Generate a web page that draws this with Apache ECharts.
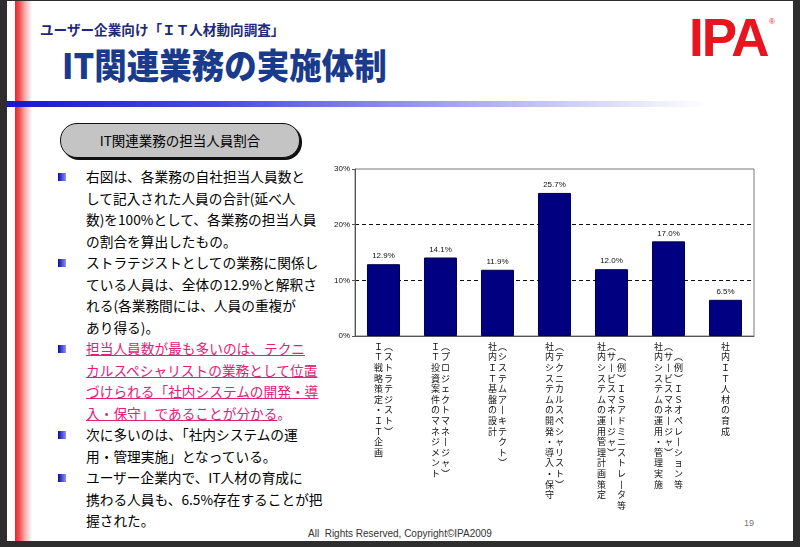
<!DOCTYPE html>
<html>
<head>
<meta charset="utf-8">
<script src="https://cdn.jsdelivr.net/npm/echarts@6/dist/echarts.min.js"></script>
<style>
  html, body { margin:0; padding:0; width:800px; height:547px; overflow:hidden; background:#2e2e2e; }
  #slide { position:absolute; left:7px; top:1px; width:786px; height:540px; background:#fff; overflow:hidden; }
  .abs { position:absolute; }
  #redband { left:8px; top:0; width:17px; height:540px; background:linear-gradient(to right, #e82828 0%, #f05050 25%, #f8b0b0 60%, #ffffff 100%); }
  #blueline { left:0; top:100px; width:700px; height:6px; background:linear-gradient(to right, #1818d0 0%, #4a4ae0 30%, #a8a8f0 65%, #ffffff 100%); }
  #subtitle { left:33px; top:18px; font-family:"Noto Sans CJK JP"; font-weight:bold; font-size:13.6px; color:#1e2a78; white-space:nowrap; }
  #title { left:55px; top:41px; font-family:"Noto Sans CJK JP"; font-weight:900; font-size:32.5px; line-height:44px; color:#1a3a8c; white-space:nowrap; transform:scaleY(1.08); transform-origin:0 50%; }
  #logo { left:682px; top:6px; font-family:"Liberation Sans"; font-weight:bold; font-size:53px; color:#e8141e; letter-spacing:-2px; white-space:nowrap; }
  #reg { left:762px; top:16px; font-family:"Liberation Sans"; font-size:8px; color:#e8141e; }
  #pill { left:53px; top:122px; width:238px; height:33px; border:1px solid #111; border-radius:17px; background:#c4c4c4; box-shadow:2px 2px 0 #111; text-align:center; font-family:"Noto Sans CJK JP"; font-size:13.5px; line-height:33px; color:#000; }
  #bullets { left:79px; top:165px; font-family:"Noto Sans CJK JP"; font-size:13.7px; line-height:21.5px; color:#000; white-space:nowrap; }
  .pink { color:#e0207a; text-decoration:underline; }
  .sq { position:absolute; width:8px; height:8px; background:linear-gradient(to right, #0a0a9a, #9090ff); }
  #footer { left:301px; top:527px; font-family:"Liberation Sans"; font-size:10px; color:#333; white-space:nowrap; }
  #pnum { left:737px; top:517px; font-family:"Liberation Sans"; font-size:9px; color:#777; }
  #chart { position:absolute; left:293px; top:149px; width:480px; height:380px; }
</style>
</head>
<body>
<div id="slide">
  <div id="redband" class="abs"></div>
  <div id="blueline" class="abs"></div>
  <div id="subtitle" class="abs">ユーザー企業向け「ＩＴ人材動向調査」</div>
  <div id="title" class="abs">IT関連業務の実施体制</div>
  <div id="logo" class="abs">IPA</div>
  <div id="reg" class="abs">®</div>
  <div id="pill" class="abs">IT関連業務の担当人員割合</div>
  <div class="sq" style="left:51px;top:172px"></div>
  <div class="sq" style="left:51px;top:258px"></div>
  <div class="sq" style="left:51px;top:344px"></div>
  <div class="sq" style="left:51px;top:430px"></div>
  <div class="sq" style="left:51px;top:473px"></div>
  <div id="bullets" class="abs">
    右図は、各業務の自社担当人員数と<br>
    して記入された人員の合計(延べ人<br>
    数)を100%として、各業務の担当人員<br>
    の割合を算出したもの。<br>
    ストラテジストとしての業務に関係し<br>
    ている人員は、全体の12.9%と解釈さ<br>
    れる(各業務間には、人員の重複が<br>
    あり得る)。<br>
    <span class="pink">担当人員数が最も多いのは、テクニ</span><br>
    <span class="pink">カルスペシャリストの業務として位置</span><br>
    <span class="pink">づけられる「社内システムの開発・導</span><br>
    <span class="pink">入・保守」であることが分かる</span><span style="color:#e0207a">。</span><br>
    次に多いのは、「社内システムの運<br>
    用・管理実施」となっている。<br>
    ユーザー企業内で、IT人材の育成に<br>
    携わる人員も、6.5%存在することが把<br>
    握された。
  </div>
  <div id="footer" class="abs">All&nbsp; Rights Reserved, Copyright©IPA2009</div>
  <div id="pnum" class="abs">19</div>
</div>
<div id="chart"></div>
<script>
// ---- data ----
var categoryColumns = [
  ["ＩＴ戦略策定・ＩＴ企画", "（ストラテジスト）"],
  ["ＩＴ投資案件のマネジメント", "（プロジェクトマネージャ）"],
  ["社内ＩＴ基盤の設計", "（システムアーキテクト）"],
  ["社内システムの開発・導入・保守", "（テクニカルスペシャリスト）"],
  ["社内システムの運用管理計画策定", "（サービスマネージャ）", "　（例）ＩＳアドミニストレータ等"],
  ["社内システムの運用・管理実施", "（サービスマネージャ）", "　（例）ＩＳオペレーション等"],
  ["社内ＩＴ人材の育成"]
];
var categories = categoryColumns.map(function (c) { return c.join(""); });
var shareValues = [12.9, 14.1, 11.9, 25.7, 12.0, 17.0, 6.5];
var yTicks = [0, 10, 20, 30];

// ---- chart ----
var vmap = { "（": "︵", "）": "︶", "ー": "丨" };
function verticalLabel(value, idx) {
  var cols = categoryColumns[idx].map(function (s) {
    return Array.from(s).map(function (ch) { return vmap[ch] || ch; });
  });
  var rows = Math.max.apply(null, cols.map(function (c) { return c.length; }));
  var lines = [];
  for (var r = 0; r < rows; r++) {
    var line = "";
    for (var c = 0; c < cols.length; c++) {
      var ch = cols[c][r] || "　";
      line += "{c|" + ch + "}";
    }
    lines.push(line);
  }
  return lines.join("\n");
}

var chart = echarts.init(document.getElementById("chart"), null, { renderer: "canvas" });
chart.setOption({
  animation: false,
  grid: { left: 62, top: 20, width: 399, height: 167, show: true, borderColor: "#7a7a7a", borderWidth: 1, backgroundColor: "transparent" },
  xAxis: {
    type: "category",
    data: categories,
    axisLine: { lineStyle: { color: "#555", width: 1 } },
    axisTick: { show: false },
    axisLabel: {
      interval: 0,
      margin: 5,
      formatter: verticalLabel,
      rich: { c: { width: 10, align: "center", fontSize: 9, lineHeight: 10.6, fontFamily: "Noto Sans CJK JP", color: "#111" } }
    }
  },
  yAxis: {
    type: "value",
    min: yTicks[0], max: yTicks[yTicks.length - 1], interval: 10,
    axisLine: { show: true, lineStyle: { color: "#555", width: 1 } },
    axisTick: { show: true, length: 3, lineStyle: { color: "#555" } },
    axisLabel: { formatter: "{value}%", fontSize: 8, color: "#111", fontFamily: "Liberation Sans", margin: 5 },
    splitLine: { show: true, lineStyle: { type: [4, 3], width: 1, color: ["rgba(0,0,0,0)", "#111", "#111", "rgba(0,0,0,0)"] } }
  },
  series: [{
    type: "bar",
    data: shareValues,
    barWidth: "58%",
    itemStyle: { color: "#000080", borderColor: "#00004a", borderWidth: 1 },
    label: {
      show: true, position: "top", distance: 4,
      fontSize: 8, color: "#111", fontFamily: "Liberation Sans",
      formatter: function (p) { return p.value.toFixed(1) + "%"; }
    }
  }]
});
</script>
</body>
</html>
